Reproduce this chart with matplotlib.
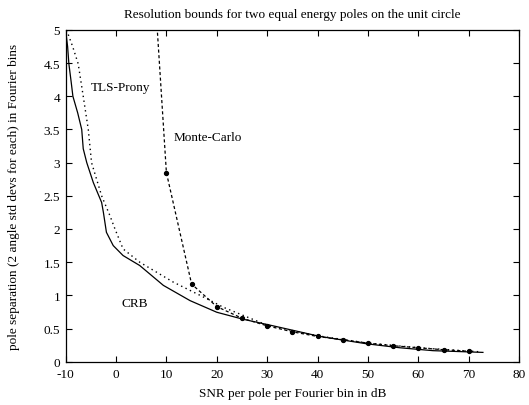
import matplotlib
matplotlib.use("Agg")
import matplotlib.pyplot as plt

plt.rcParams["font.family"] = ["Liberation Serif", "DejaVu Serif"]
plt.rcParams["axes.unicode_minus"] = False

# CRB curve (solid)
crb_snr = [-10, -9.6, -9.35, -8.9, -8.55, -7.6, -6.8, -6.5, -5.8, -4.5, -2.85, -2.5,
           -1.9, -0.55, 1.4, 4.7, 9.4, 14.7, 20.0, 25.2, 31.2, 40.5, 49.7, 56.3,
           62.9, 72.8]
crb_sep = [5.0, 4.75, 4.49, 4.22, 4.0, 3.75, 3.5, 3.21, 3.0, 2.7, 2.4, 2.25,
           1.95, 1.75, 1.6, 1.45, 1.15, 0.92, 0.745, 0.64, 0.54, 0.38, 0.27, 0.21,
           0.166, 0.14]

# TLS-Prony (dotted)
tls_snr = [-9.8, -8.6, -7.5, -6.5, -5.5, -4.85, -2.85, -1.2, -0.2, 1.4, 4.7, 11.35,
           18, 21.3, 30, 40, 50, 60, 70, 72]
tls_sep = [5.0, 4.75, 4.49, 4.0, 3.5, 3.0, 2.5, 2.2, 2.0, 1.7, 1.5, 1.2,
           0.95, 0.82, 0.55, 0.39, 0.28, 0.21, 0.16, 0.15]

# Monte-Carlo (dashed with markers)
mc_snr = [5, 10, 15, 20, 25, 30, 35, 40, 45, 50, 55, 60, 65, 70]
mc_sep = [8.8, 2.85, 1.17, 0.83, 0.655, 0.54, 0.45, 0.38, 0.33, 0.28, 0.24,
          0.21, 0.18, 0.157]

fig = plt.figure(figsize=(5.29, 4.06), dpi=100)
ax = fig.add_axes([0.124, 0.1067, 0.8575, 0.817])

ax.plot(crb_snr, crb_sep, color="black", lw=0.9)
ax.plot(tls_snr, tls_sep, color="black", lw=1.0, linestyle=(0, (1, 2.5)))
ax.plot(mc_snr, mc_sep, color="black", lw=0.9, linestyle=(0, (2.5, 2)),
        marker="o", markersize=2.8)

ax.text(-5.0, 4.14, "TLS-Prony", fontsize=9.5, va="center", ha="left")
ax.text(11.35, 3.39, "Monte-Carlo", fontsize=9.5, va="center", ha="left")
ax.text(1.1, 0.885, "CRB", fontsize=9.5, va="center", ha="left")

ax.set_xlim(-10, 80)
ax.set_ylim(0, 5)
ax.set_xticks([-10, 0, 10, 20, 30, 40, 50, 60, 70, 80])
ax.set_yticks([0, 0.5, 1, 1.5, 2, 2.5, 3, 3.5, 4, 4.5, 5])
ax.set_yticklabels(["0", "0.5", "1", "1.5", "2", "2.5", "3", "3.5", "4", "4.5", "5"])
ax.tick_params(direction="in", top=True, right=True, length=4, width=0.8,
               labelsize=9.5)
ax.tick_params(axis="x", pad=4.5)
ax.tick_params(axis="y", pad=4)
for s in ax.spines.values():
    s.set_linewidth(0.9)

ax.set_title("Resolution bounds for two equal energy poles on the unit circle",
             fontsize=9.5, pad=9)
ax.set_xlabel("SNR per pole per Fourier bin in dB", fontsize=9.5, labelpad=5)
ax.set_ylabel("pole separation (2 angle std devs for each) in Fourier bins",
              fontsize=9.5, labelpad=17)

fig.savefig("out.png", dpi=100)
